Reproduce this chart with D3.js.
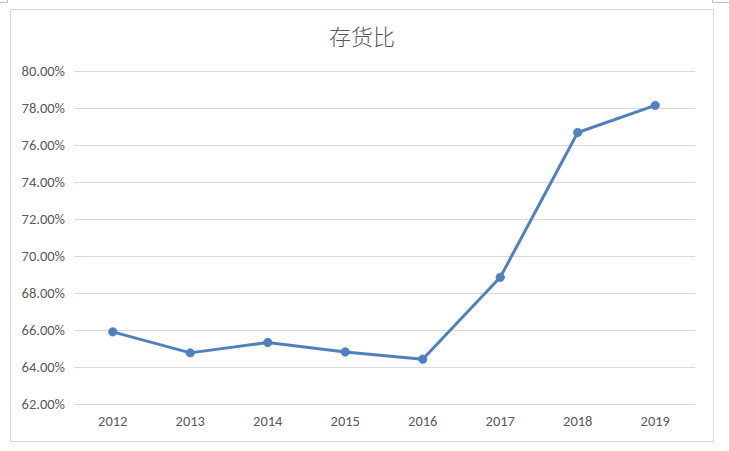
<!DOCTYPE html>
<html><head><meta charset="utf-8">
<script src="https://cdn.jsdelivr.net/npm/d3@7"></script>
<style>body{margin:0;background:#fff;}svg{display:block;}</style>
</head><body>
<svg id="c" width="729" height="451"></svg>
<script>
const title = "存货比";
const categories = ["2012","2013","2014","2015","2016","2017","2018","2019"];
const values = [65.88, 64.74, 65.30, 64.79, 64.40, 68.83, 76.67, 78.14];
const yTicks = [62,64,66,68,70,72,74,76,78,80];

const svg = d3.select("#c");
const textColor = "#595959";
const font = "Calibri, Carlito, 'Liberation Sans', 'Noto Sans', sans-serif";

// page corner marks
svg.append("path").attr("d","M0,2.5H7.5V0").attr("fill","none").attr("stroke","#bfbfbf").attr("stroke-width",1);
svg.append("path").attr("d","M729,2.5H712.5V0").attr("fill","none").attr("stroke","#bfbfbf").attr("stroke-width",1);

// chart frame
svg.append("rect").attr("x",10.5).attr("y",9.5).attr("width",703).attr("height",432)
  .attr("fill","#fff").attr("stroke","#d9d9d9").attr("stroke-width",1);

const x = d3.scaleBand().domain(categories).range([74,694]);
const y = d3.scaleLinear().domain([62,80]).range([403.5,71]);

svg.append("text").attr("x",362).attr("y",45).attr("text-anchor","middle")
  .attr("font-family","'Noto Sans CJK SC', sans-serif").attr("font-weight",300)
  .attr("font-size",22).attr("fill",textColor).text(title);

// gridlines
svg.append("g").selectAll("line").data(yTicks).join("line")
  .attr("x1",74).attr("x2",695)
  .attr("y1",d=>Math.round(y(d))+0.5).attr("y2",d=>Math.round(y(d))+0.5)
  .attr("stroke","#d9d9d9").attr("stroke-width",1);

// y axis labels
const yAxis = d3.axisLeft(y).tickValues(yTicks).tickSize(0).tickPadding(0)
  .tickFormat(d=>d.toFixed(2)+"%");
const gy = svg.append("g").attr("transform","translate(65,0)").call(yAxis);
gy.select(".domain").remove();
gy.selectAll("text").attr("font-family",font).attr("font-size",14.5).attr("fill",textColor);

// x axis labels
const xAxis = d3.axisBottom(x).tickSize(0).tickPadding(0);
const gx = svg.append("g").attr("transform","translate(0,416)").call(xAxis);
gx.select(".domain").remove();
gx.selectAll("text").attr("font-family",font).attr("font-size",14.5).attr("fill",textColor);

const cx = d => x(d) + x.bandwidth()/2;
const data = categories.map((c,i)=>({c, v: values[i]}));

svg.append("path").datum(data)
  .attr("d", d3.line().x(d=>cx(d.c)).y(d=>y(d.v)))
  .attr("fill","none").attr("stroke","#4f81bd").attr("stroke-width",3)
  .attr("stroke-linejoin","round").attr("stroke-linecap","round");

svg.append("g").selectAll("circle").data(data).join("circle")
  .attr("cx",d=>cx(d.c)).attr("cy",d=>y(d.v)).attr("r",4.2)
  .attr("fill","#4f81bd").attr("stroke","#4f81bd").attr("stroke-width",0.8);
</script>
</body></html>
